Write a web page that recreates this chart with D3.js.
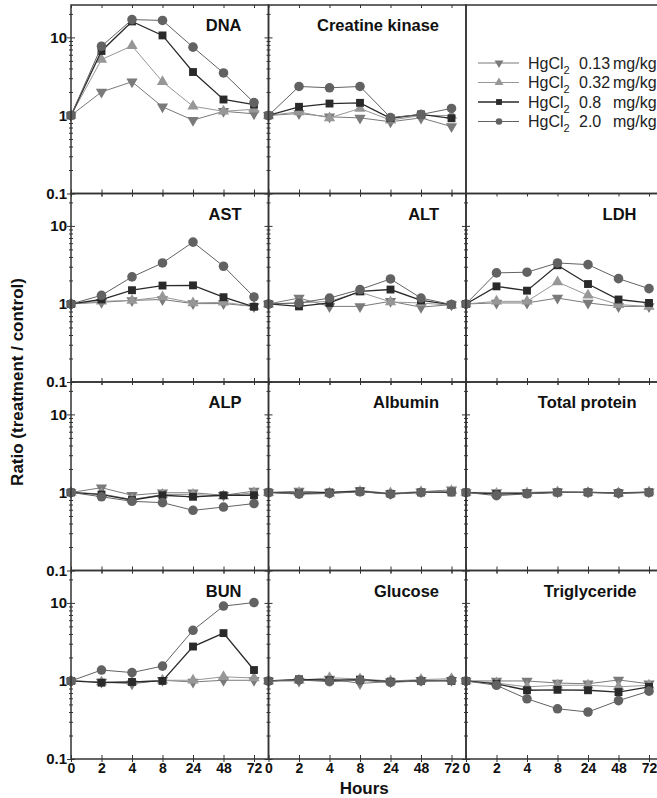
<!DOCTYPE html>
<html>
<head>
<meta charset="utf-8">
<script src="https://cdn.jsdelivr.net/npm/d3@7"></script>
<style>
  body { margin: 0; background: #fff; }
  text { font-family: "Liberation Sans", Arial, sans-serif; }
</style>
</head>
<body>
<script>
// time points (categorical x axis) and dose groups
const hours = ["0", "2", "4", "8", "24", "48", "72"];
const doses = ["0.13", "0.32", "0.8", "2.0"];

// ratio (treatment / control); each block = [0.13, 0.32, 0.8, 2.0 mg/kg]
const dnaValues = [
    [1, 2.0, 2.7, 1.29, 0.87, 1.13, 1.05],
    [1, 5.2, 7.8, 2.7, 1.31, 1.13, 1.2],
    [1, 6.7, 16, 10.6, 3.6, 1.6, 1.38],
    [1, 7.7, 16.9, 16.5, 7.5, 3.5, 1.46]
];
const ckValues = [
    [1, 1.06, 0.96, 0.93, 0.83, 0.93, 0.72],
    [1, 1.11, 0.93, 1.23, 0.87, 1.0, 1.0],
    [1, 1.29, 1.42, 1.45, 0.92, 1.03, 0.92],
    [1, 2.35, 2.26, 2.35, 0.94, 1.03, 1.23]
];
const astValues = [
    [1, 1.05, 1.11, 1.14, 1.01, 1.01, 0.93],
    [1, 1.08, 1.11, 1.23, 1.03, 1.05, 0.93],
    [1, 1.14, 1.5, 1.72, 1.73, 1.22, 0.92],
    [1, 1.29, 2.22, 3.35, 6.2, 3.04, 1.23]
];
const altValues = [
    [1, 1.19, 0.93, 0.93, 1.08, 0.91, 0.98],
    [1, 1.03, 1.08, 1.42, 1.06, 1.03, 0.96],
    [1, 0.93, 1.03, 1.45, 1.53, 1.11, 0.98],
    [1, 1.03, 1.19, 1.53, 2.09, 1.19, 0.98]
];
const ldhValues = [
    [1, 1.03, 1.03, 1.19, 1.03, 0.93, 0.93],
    [1, 1.08, 1.08, 1.91, 1.29, 0.98, 0.93],
    [1, 1.68, 1.48, 3.13, 1.8, 1.14, 1.03],
    [1, 2.5, 2.55, 3.35, 3.19, 2.11, 1.57]
];
const alpValues = [
    [1, 1.15, 0.92, 0.99, 0.99, 0.92, 1.04],
    [1, 0.96, 0.81, 0.94, 0.94, 0.9, 0.99],
    [1, 0.94, 0.8, 0.92, 0.88, 0.92, 0.92],
    [1, 0.88, 0.77, 0.74, 0.59, 0.65, 0.72]
];
const albuminValues = [
    [1, 1.04, 1.0, 1.06, 0.97, 1.02, 1.08],
    [1, 1.0, 0.98, 1.03, 0.98, 1.02, 1.05],
    [1, 0.97, 1.0, 1.03, 0.96, 1.0, 1.0],
    [1, 0.95, 0.97, 1.02, 0.95, 1.0, 1.02]
];
const proteinValues = [
    [1, 1.0, 1.0, 1.02, 1.01, 0.99, 1.02],
    [1, 0.97, 0.98, 1.01, 1.0, 0.98, 1.01],
    [1, 0.95, 0.97, 1.0, 1.0, 0.98, 1.0],
    [1, 0.91, 0.96, 1.0, 1.0, 0.98, 1.0]
];
const bunValues = [
    [1, 0.97, 0.92, 1.02, 0.97, 1.02, 1.02],
    [1, 0.97, 0.97, 1.02, 1.02, 1.13, 1.09],
    [1, 0.95, 0.97, 1.0, 2.76, 4.1, 1.38],
    [1, 1.38, 1.28, 1.55, 4.46, 9.1, 10.1]
];
const glucoseValues = [
    [1, 1.0, 1.06, 0.93, 0.98, 1.02, 1.02],
    [1, 1.02, 1.1, 1.06, 1.0, 1.04, 1.07],
    [1, 1.05, 1.02, 1.04, 0.98, 1.0, 1.0],
    [1, 1.03, 0.98, 1.02, 0.96, 1.0, 1.02]
];
const tgValues = [
    [1, 1.0, 1.0, 0.94, 0.92, 1.03, 0.92],
    [1, 0.94, 0.84, 0.88, 0.88, 0.84, 0.88],
    [1, 0.92, 0.76, 0.77, 0.76, 0.72, 0.84],
    [1, 0.88, 0.59, 0.44, 0.4, 0.56, 0.74]
];

const panelTitles = ["DNA", "Creatine kinase", null, "AST", "ALT", "LDH",
                     "ALP", "Albumin", "Total protein", "BUN", "Glucose", "Triglyceride"];
const panelValues = [dnaValues, ckValues, null, astValues, altValues, ldhValues,
                     alpValues, albuminValues, proteinValues, bunValues, glucoseValues, tgValues];

// series styles, same order as doses
const seriesColors = ["#7a7a7a", "#979797", "#2a2a2a", "#626262"];
const seriesSymbols = [d3.symbolTriangle, d3.symbolTriangle, d3.symbolSquare, d3.symbolCircle];
const seriesRotate = [180, 0, 0, 0];
const seriesSizes = [55, 55, 62, 72];

const width = 657, height = 798;
const marginLeft = 71, marginTop = 5;
const colW = 197.5, rowH = 188.5;

const svg = d3.select("body").append("svg")
    .attr("width", width)
    .attr("height", height);

const xScale = d3.scalePoint().domain(hours).range([0, 183]);
const yScale = d3.scaleLog().domain([0.1, 26]).range([rowH, 0]);

const majorTicks = [0.1, 1, 10];
let minorTicks = [];
[0.1, 1, 10].forEach(function(base) {
    for (let k = 2; k <= 9; k++) {
        if (base * k <= 26) minorTicks.push(base * k);
    }
});

const line = d3.line()
    .x(function(d, i) { return xScale(hours[i]); })
    .y(function(d) { return yScale(d); });

function cleanAxis(g) {
    g.select(".domain").remove();
    g.selectAll(".tick line").attr("stroke", "#333").attr("stroke-width", 1);
}

for (let p = 0; p < 12; p++) {
    const col = p % 3, row = Math.floor(p / 3);
    const g = svg.append("g")
        .attr("transform", "translate(" + (marginLeft + col * colW) + "," + (marginTop + row * rowH) + ")");

    if (panelValues[p] == null) {
        // legend panel
        g.append("rect")
            .attr("width", colW).attr("height", rowH)
            .attr("fill", "none").attr("stroke", "#333").attr("stroke-width", 1.5);
        doses.forEach(function(dose, i) {
            const ly = 58 + i * 19.5;
            const item = g.append("g").attr("transform", "translate(0," + ly + ")");
            item.append("line")
                .attr("x1", 12).attr("x2", 53).attr("y1", 0).attr("y2", 0)
                .attr("stroke", seriesColors[i]).attr("stroke-width", i == 2 ? 1.6 : 1.2);
            item.append("path")
                .attr("d", d3.symbol().type(seriesSymbols[i]).size(34)())
                .attr("transform", "translate(33,0) rotate(" + seriesRotate[i] + ")")
                .attr("fill", seriesColors[i]);
            const label = item.append("text")
                .attr("x", 62).attr("y", 5.5)
                .attr("font-size", 16).attr("fill", "#222");
            label.append("tspan").text("HgCl");
            label.append("tspan").attr("dy", 5).attr("font-size", 11).text("2");
            item.append("text")
                .attr("x", 113).attr("y", 5.5)
                .attr("font-size", 16).attr("fill", "#222")
                .text(dose);
            item.append("text")
                .attr("x", 147).attr("y", 5.5)
                .attr("font-size", 16).attr("fill", "#222")
                .text("mg/kg");
        });
        continue;
    }

    // y ticks, crossing the left border
    g.append("g").call(d3.axisLeft(yScale).tickValues(majorTicks).tickSize(4).tickFormat(""))
        .call(cleanAxis);
    g.append("g").call(d3.axisRight(yScale).tickValues(majorTicks).tickSize(4).tickFormat(""))
        .call(cleanAxis);
    g.append("g").call(d3.axisLeft(yScale).tickValues(minorTicks).tickSize(2).tickFormat(""))
        .call(cleanAxis);
    g.append("g").call(d3.axisRight(yScale).tickValues(minorTicks).tickSize(2).tickFormat(""))
        .call(cleanAxis);

    // x ticks at the bottom (both sides) and top (inward)
    g.append("g").attr("transform", "translate(0," + rowH + ")")
        .call(d3.axisTop(xScale).tickSize(4).tickFormat(""))
        .call(cleanAxis);
    g.append("g").attr("transform", "translate(0," + rowH + ")")
        .call(d3.axisBottom(xScale).tickSize(3).tickPadding(1)
            .tickFormat(row == 3 ? null : ""))
        .call(cleanAxis)
        .call(function(a) {
            a.selectAll("text")
                .attr("font-size", 14).attr("font-weight", "bold")
                .attr("fill", "#111")
                .style("font-family", "'Liberation Sans', Arial, sans-serif");
        });
    g.append("g")
        .call(d3.axisBottom(xScale).tickSize(3).tickFormat(""))
        .call(cleanAxis);

    if (col == 0) {
        g.append("g")
            .call(d3.axisLeft(yScale).tickValues(majorTicks).tickSize(0).tickPadding(4)
                .tickFormat(function(d) { return d < 1 ? "0.1" : String(d); }))
            .call(function(a) {
                a.select(".domain").remove();
                a.selectAll("text")
                    .attr("font-size", 15).attr("font-weight", "bold")
                    .attr("fill", "#111")
                    .style("font-family", "'Liberation Sans', Arial, sans-serif");
            });
    }

    // data
    panelValues[p].forEach(function(vals, s) {
        g.append("path")
            .datum(vals)
            .attr("fill", "none")
            .attr("stroke", seriesColors[s])
            .attr("stroke-width", s == 2 ? 1.3 : 1)
            .attr("d", line);
        g.selectAll(null)
            .data(vals)
            .enter()
            .append("path")
            .attr("d", d3.symbol().type(seriesSymbols[s]).size(seriesSizes[s])())
            .attr("transform", function(d, i) {
                return "translate(" + xScale(hours[i]) + "," + yScale(d) + ") rotate(" + seriesRotate[s] + ")";
            })
            .attr("fill", seriesColors[s]);
    });

    g.append("rect")
        .attr("width", colW).attr("height", rowH)
        .attr("fill", "none").attr("stroke", "#333").attr("stroke-width", 1.5);

    g.append("text")
        .attr("x", colW - 27).attr("y", 26)
        .attr("text-anchor", "end")
        .attr("font-size", 16.5).attr("font-weight", "bold")
        .attr("fill", "#111")
        .text(panelTitles[p]);
}

// axis titles
svg.append("text")
    .attr("transform", "translate(23," + (marginTop + 2 * rowH) + ") rotate(-90)")
    .attr("text-anchor", "middle")
    .attr("font-size", 17).attr("font-weight", "bold")
    .attr("fill", "#111")
    .text("Ratio (treatment / control)");

svg.append("text")
    .attr("x", marginLeft + colW * 1.5 - 3)
    .attr("y", 794)
    .attr("text-anchor", "middle")
    .attr("font-size", 17).attr("font-weight", "bold")
    .attr("fill", "#111")
    .text("Hours");
</script>
</body>
</html>
